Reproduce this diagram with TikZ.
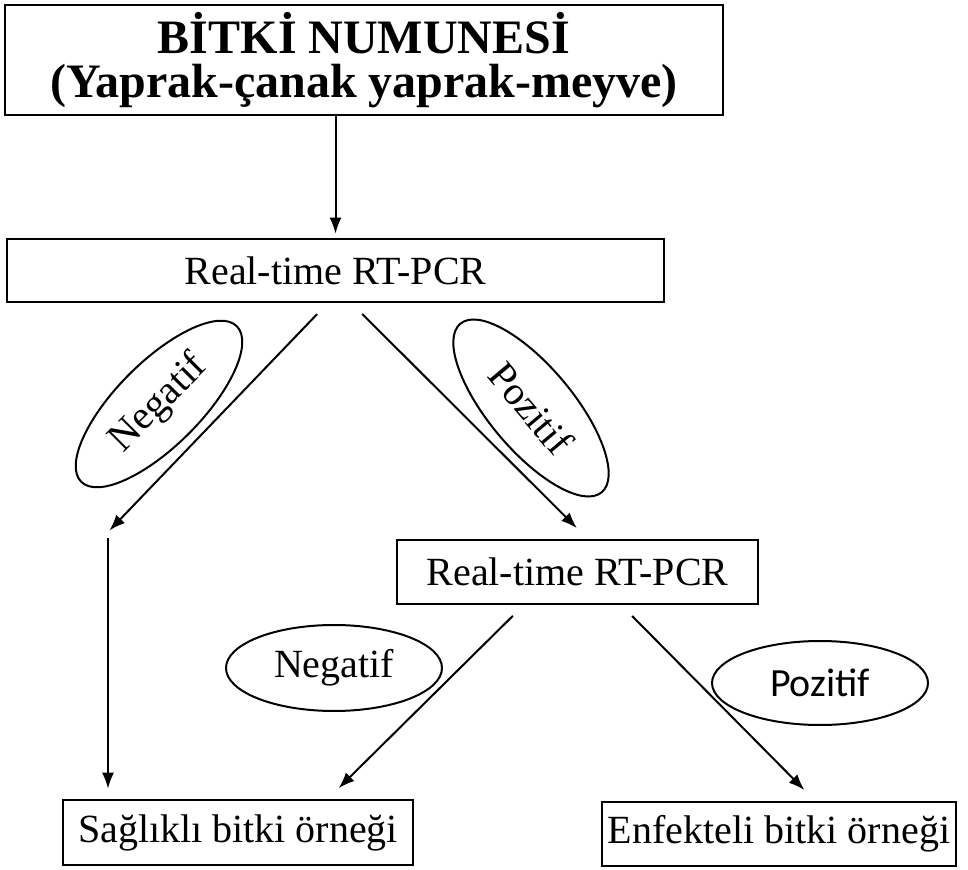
\documentclass[tikz,border=0pt]{standalone}
\usepackage{fontspec}
\setmainfont{Liberation Serif}
\newfontfamily\sansfont{Carlito}
\usepackage{tikz}
\usetikzlibrary{shapes.geometric, arrows.meta}

\begin{document}
\begin{tikzpicture}[x=0.5pt, y=-0.5pt, >={Latex[length=8pt,width=6pt]},
        box/.style={draw, line width=1.3pt, inner sep=0pt, font=\fontsize{20}{24}\selectfont},
        oval/.style={draw, ellipse, line width=1pt, inner sep=0pt, font=\fontsize{20}{24}\selectfont},
        arr/.style={->, line width=1pt, shorten <=7.5pt, shorten >=7.5pt}]
        \useasboundingbox (0,0) rectangle (968,870);

        % boxes
        \node[box, minimum width=359pt, minimum height=55pt, align=center, font=\fontsize{24}{22}\selectfont\bfseries] (sample) at (364,60) {BİTKİ NUMUNESİ\\(Yaprak-çanak yaprak-meyve)};
        \node[box, minimum width=328.5pt, minimum height=31.5pt] (pcr1) at (335.5,270.5) {Real-time RT-PCR};
        \node[box, minimum width=180.5pt, minimum height=32pt] (pcr2) at (577.5,572) {Real-time RT-PCR};
        \node[box, minimum width=175pt, minimum height=32.5pt] (healthy) at (238,832.5) {Sağlıklı bitki örneği};
        \node[box, minimum width=177pt, minimum height=32pt] (infected) at (779,834) {Enfekteli bitki örneği};

        % results
        \node[oval, rotate=45, minimum width=110pt, minimum height=42pt] (neg1) at (159,404) {Negatif};
        \node[oval, rotate=-50, minimum width=110pt, minimum height=42pt] (pos1) at (531,408) {Pozitif};
        \node[oval, minimum width=108pt, minimum height=43pt] (neg2) at (334,668) {Negatif};
        \node[oval, minimum width=108pt, minimum height=42pt, font=\fontsize{20}{24}\sansfont] (pos2) at (820,683) {Pozitif};

        \coordinate (turn) at (108,532);

        \draw[arr, shorten <=0pt, shorten >=2pt] (sample.south -| pcr1.north) -- (pcr1.north);
        \draw[arr, shorten >=1pt] ([xshift=-4pt]pcr1.south) -- (turn);
        \draw[arr, shorten <=3pt, shorten >=5pt] (turn) -- (healthy.north -| turn);
        \draw[arr] ([xshift=8pt]pcr1.south) -- ([xshift=5pt]pcr2.north);
        \draw[arr] ([xshift=-27pt]pcr2.south) -- ([xshift=45pt]healthy.north);
        \draw[arr] ([xshift=22pt]pcr2.south) -- ([xshift=18pt]infected.north);
\end{tikzpicture}
\end{document}
